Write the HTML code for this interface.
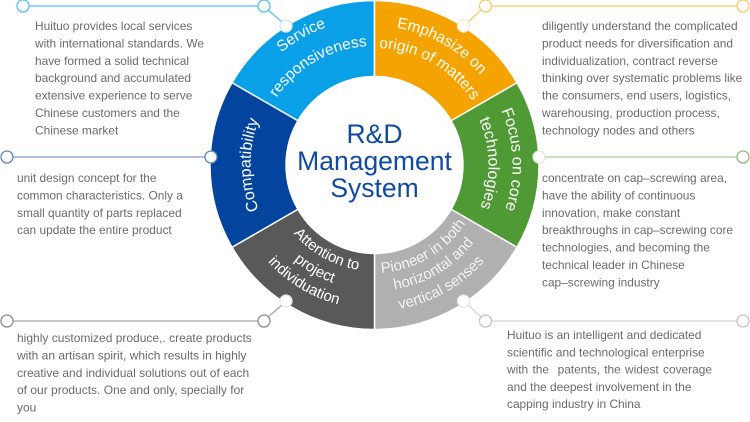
<!DOCTYPE html>
<html><head><meta charset="utf-8"><style>
html,body{margin:0;padding:0;background:#fff}
svg{display:block;font-family:"Liberation Sans",sans-serif;filter:blur(0.35px)}
.b{font-size:11.9px;fill:#6a6a6a}
.l{font-size:12px;fill:#6a6a6a}
.w{font-size:15.5px;fill:#fff}
.i{font-size:15px;fill:#fff}
.p{font-size:15px;fill:#f2f2f2}
.f{font-size:16px;fill:#fff}
</style></head><body>
<svg width="750" height="422" viewBox="0 0 750 422" xmlns="http://www.w3.org/2000/svg">
<defs>
<path id="c146" d="M374.5 19A146 146 0 1 1 374.5 311A146 146 0 1 1 374.5 19"/>
<path id="c119" d="M374.5 46A119 119 0 1 1 374.5 284A119 119 0 1 1 374.5 46"/>
<path id="c139" d="M374.5 26A139 139 0 1 1 374.5 304A139 139 0 1 1 374.5 26"/>
<path id="c117" d="M374.5 48A117 117 0 1 1 374.5 282A117 117 0 1 1 374.5 48"/>
<path id="c138" d="M374.5 27A138 138 0 1 1 374.5 303A138 138 0 1 1 374.5 27"/>
<path id="c114" d="M374.5 51A114 114 0 1 1 374.5 279A114 114 0 1 1 374.5 51"/>
<path id="c124" d="M374.5 41A124 124 0 1 1 374.5 289A124 124 0 1 1 374.5 41"/>
<path id="u106" d="M374.5 271A106 106 0 1 0 374.5 59A106 106 0 1 0 374.5 271"/>
<path id="u125" d="M374.5 290A125 125 0 1 0 374.5 40A125 125 0 1 0 374.5 290"/>
<path id="u144" d="M374.5 309A144 144 0 1 0 374.5 21A144 144 0 1 0 374.5 309"/>
<path id="u108" d="M374.5 273A108 108 0 1 0 374.5 57A108 108 0 1 0 374.5 273"/>
<path id="u126" d="M374.5 291A126 126 0 1 0 374.5 39A126 126 0 1 0 374.5 291"/>
<path id="u146" d="M374.5 311A146 146 0 1 0 374.5 19A146 146 0 1 0 374.5 311"/>
</defs>

<!-- connectors -->
<g fill="none" stroke-width="1.3">
<path d="M29 6H258M268 10L282 22" stroke="#5cc0f0"/>
<path d="M13 157H205" stroke="#7f9ccb"/>
<path d="M13 321H258M268 317L282 305" stroke="#a6a6a6"/>
<path d="M492 6H737M481 10L468 22" stroke="#f8ca6a"/>
<path d="M545 157H737" stroke="#a5cc93"/>
<path d="M491 321H737M481 317L468 305" stroke="#d6d6d6"/>
</g>

<!-- ring -->
<g stroke="#fff" stroke-width="1.5">
<path d="M374.5 0.5A164.5 164.5 0 0 0 232 82.75L297.9 120.75A88.5 88.5 0 0 1 374.5 76.5Z" fill="#0aa0e8"/>
<path d="M374.5 0.5A164.5 164.5 0 0 1 517 82.75L451.1 120.75A88.5 88.5 0 0 0 374.5 76.5Z" fill="#f5a300"/>
<path d="M517 82.75A164.5 164.5 0 0 1 517 247.25L451.1 209.25A88.5 88.5 0 0 0 451.1 120.75Z" fill="#4f9a35"/>
<path d="M517 247.25A164.5 164.5 0 0 1 374.5 329.5L374.5 253.5A88.5 88.5 0 0 0 451.1 209.25Z" fill="#b0b0b0"/>
<path d="M374.5 329.5A164.5 164.5 0 0 1 232 247.25L297.9 209.25A88.5 88.5 0 0 0 374.5 253.5Z" fill="#595959"/>
<path d="M232 247.25A164.5 164.5 0 0 1 232 82.75L297.9 120.75A88.5 88.5 0 0 0 297.9 209.25Z" fill="#02449e"/>
</g>

<!-- nodes -->
<g fill="#fff" stroke-width="1.3">
<circle cx="23" cy="6" r="6" stroke="#5cc0f0"/>
<circle cx="264" cy="6" r="6" stroke="#5cc0f0"/>
<circle cx="286" cy="26" r="6" stroke="#cdeafa"/>
<circle cx="7" cy="157" r="6" stroke="#5d84c0"/>
<circle cx="211" cy="157" r="6" stroke="#5d84c0"/>
<circle cx="7" cy="321" r="6" stroke="#8c8c8c"/>
<circle cx="264" cy="321" r="6" stroke="#8c8c8c"/>
<circle cx="286" cy="301" r="6" stroke="#e6e6e6"/>
<circle cx="485.5" cy="6" r="6" stroke="#f8ca6a"/>
<circle cx="743" cy="6" r="6" stroke="#f8ca6a"/>
<circle cx="463.5" cy="26" r="6" stroke="#fdebc4"/>
<circle cx="539" cy="157" r="6" stroke="#dcecd4"/>
<circle cx="743" cy="157" r="6" stroke="#8dbd77"/>
<circle cx="485.5" cy="321" r="6" stroke="#c4c4c4"/>
<circle cx="743" cy="321" r="6" stroke="#c4c4c4"/>
<circle cx="463.5" cy="301" r="6" stroke="#e6e6e6"/>
</g>

<!-- ring labels -->
<g>
<text class="w" transform="rotate(-39.6 374.5 165)"><textPath href="#c146">Service</textPath></text>
<text class="w" transform="rotate(-55.5 374.5 165)"><textPath href="#c119">responsiveness</textPath></text>
<text class="w" transform="rotate(9.1 374.5 165)"><textPath href="#c139">Emphasize on</textPath></text>
<text class="w" transform="rotate(2.2 374.5 165)"><textPath href="#c117">origin of matters</textPath></text>
<text class="f" transform="rotate(66.7 374.5 165)"><textPath href="#c138">Focus on core</textPath></text>
<text class="f" transform="rotate(66.6 374.5 165)"><textPath href="#c114">technologies</textPath></text>
<text class="f" transform="rotate(-111.2 374.5 165)"><textPath href="#c124">Compatibility</textPath></text>
<text class="i" transform="rotate(49.8 374.5 165)"><textPath href="#u106">Attention to</textPath></text>
<text class="i" transform="rotate(40.2 374.5 165)"><textPath href="#u125">project</textPath></text>
<text class="i" transform="rotate(47.8 374.5 165)"><textPath href="#u144">individuation</textPath></text>
<text class="p" transform="rotate(-3.7 374.5 165)"><textPath href="#u108">Pioneer in both</textPath></text>
<text class="p" transform="rotate(-9.1 374.5 165)"><textPath href="#u126">horizontal and</textPath></text>
<text class="p" transform="rotate(-9.8 374.5 165)"><textPath href="#u146">vertical senses</textPath></text>
</g>

<!-- centre -->
<g font-size="26.5" fill="#0f4aa3" text-anchor="middle">
<text x="374.5" y="143">R&amp;D</text>
<text x="374.5" y="170">Management</text>
<text x="374.5" y="197">System</text>
</g>

<!-- body text -->
<g>
<text class="b" x="35" y="30">Huituo provides local services</text>
<text class="b" x="35" y="47.4">with international standards. We</text>
<text class="b" x="35" y="64.8">have formed a solid technical</text>
<text class="b" x="35" y="82.2">background and accumulated</text>
<text class="b" x="35" y="99.6">extensive experience to serve</text>
<text class="b" x="35" y="117">Chinese customers and the</text>
<text class="b" x="35" y="134.4">Chinese market</text>

<text class="b" x="17" y="182">unit design concept for the</text>
<text class="b" x="17" y="199.4">common characteristics. Only a</text>
<text class="b" x="17" y="216.8">small quantity of parts replaced</text>
<text class="b" x="17" y="234.2">can update the entire product</text>

<text class="l" x="17" y="342">highly customized produce,. create products</text>
<text class="l" x="17" y="359.4">with an artisan spirit, which results in highly</text>
<text class="l" x="17" y="376.8">creative and individual solutions out of each</text>
<text class="l" x="17" y="394.2">of our products. One and only, specially for</text>
<text class="l" x="17" y="411.6">you</text>

<text class="b" x="542" y="30">diligently understand the complicated</text>
<text class="b" x="542" y="47.4">product needs for diversification and</text>
<text class="b" x="542" y="64.8">individualization, contract reverse</text>
<text class="b" x="542" y="82.2">thinking over systematic problems like</text>
<text class="b" x="542" y="99.6">the consumers, end users, logistics,</text>
<text class="b" x="542" y="117">warehousing, production process,</text>
<text class="b" x="542" y="134.4">technology nodes and others</text>

<text class="b" x="542" y="182">concentrate on cap–screwing area,</text>
<text class="b" x="542" y="199.4">have the ability of continuous</text>
<text class="b" x="542" y="216.8">innovation, make constant</text>
<text class="b" x="542" y="234.2">breakthroughs in cap–screwing core</text>
<text class="b" x="542" y="251.6">technologies, and becoming the</text>
<text class="b" x="542" y="269">technical leader in Chinese</text>
<text class="b" x="542" y="286.4">cap–screwing industry</text>

<text class="b" x="507" y="339">Huituo is an intelligent and dedicated</text>
<text class="b" x="507" y="356.3">scientific and technological enterprise</text>
<text class="b" x="507" y="373.6" xml:space="preserve" word-spacing="1">with the  patents, the widest coverage</text>
<text class="b" x="507" y="390.9">and the deepest involvement in the</text>
<text class="b" x="507" y="408.2">capping industry in China</text>
</g>
</svg>
</body></html>
